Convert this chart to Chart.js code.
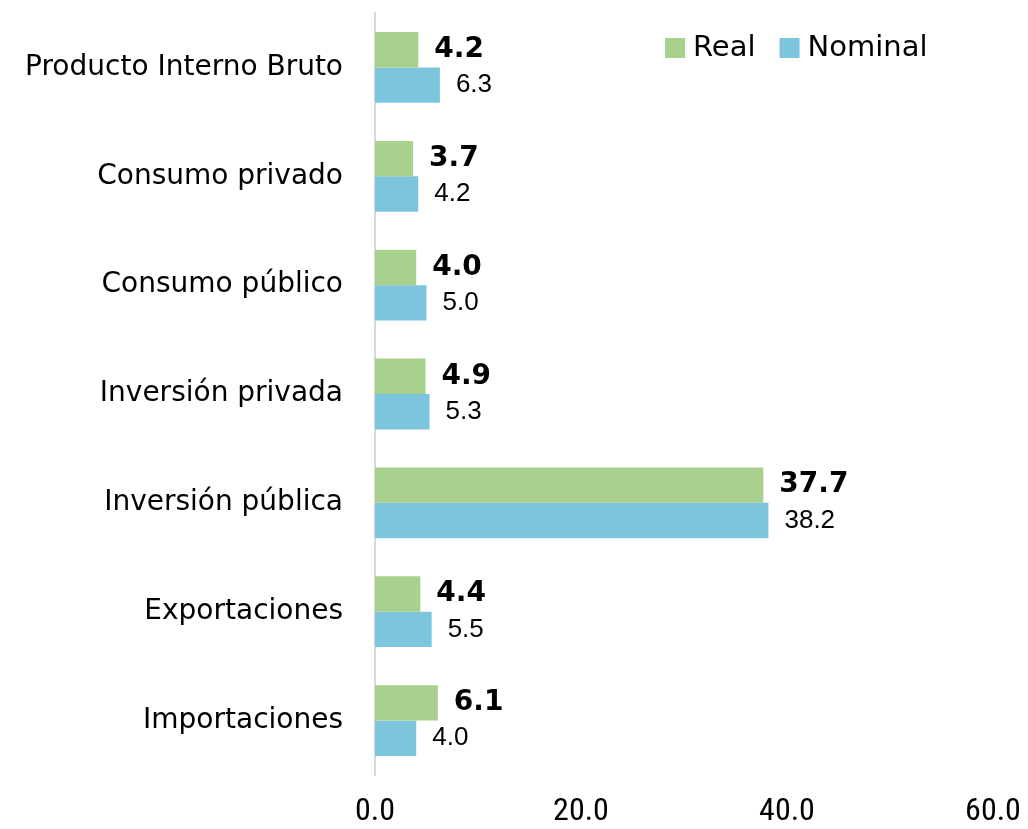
<!DOCTYPE html>
<html>
<head>
<meta charset="utf-8">
<script src="https://cdn.jsdelivr.net/npm/chart.js@4/dist/chart.umd.min.js"></script>
<style>
  html, body { margin: 0; padding: 0; background: #fff; }
  #wrap { width: 1028px; height: 829px; }
</style>
</head>
<body>
<div id="wrap"><canvas id="myChart"></canvas></div>
<script>
const categories = ["Producto Interno Bruto", "Consumo privado", "Consumo público", "Inversión privada", "Inversión pública", "Exportaciones", "Importaciones"]
const real = [4.2, 3.7, 4.0, 4.9, 37.7, 4.4, 6.1]
const nominal = [6.3, 4.2, 5.0, 5.3, 38.2, 5.5, 4.0]
const xticks = [0, 20, 40, 60]

const green = "#A9D18E"
const blue = "#7CC5DD"

// value labels next to each bar, Real in bold
const barLabels = {
    id: "barLabels",
    afterDatasetsDraw(chart) {
        const ctx = chart.ctx
        ctx.save()
        ctx.fillStyle = "#000"
        ctx.textBaseline = "middle"
        ctx.textAlign = "left"
        chart.data.datasets.forEach((ds, i) => {
            const meta = chart.getDatasetMeta(i)
            ctx.font = i === 0 ? "bold 28px 'DejaVu Sans', Verdana, sans-serif" : "26px 'Liberation Sans', Arial, sans-serif"
            meta.data.forEach((bar, j) => {
                ctx.fillText(ds.data[j].toFixed(1), bar.x + 16, bar.y)
            })
        })
        ctx.restore()
    }
}

// legend drawn in the upper right of the plot
const topLegend = {
    id: "topLegend",
    afterDraw(chart) {
        const ctx = chart.ctx
        ctx.save()
        ctx.font = "29px 'DejaVu Sans', sans-serif"
        ctx.textBaseline = "middle"
        let x = 665
        const y = 48
        chart.data.datasets.forEach(ds => {
            ctx.fillStyle = ds.backgroundColor
            ctx.fillRect(x, y - 10, 20, 20)
            ctx.fillStyle = "#000"
            ctx.fillText(ds.label, x + 28, y)
            x += 28 + ctx.measureText(ds.label).width + 24
        })
        ctx.restore()
    }
}

new Chart("myChart", {
    type: "bar",
    data: {
        labels: categories,
        datasets: [
            { label: "Real", data: real, backgroundColor: green },
            { label: "Nominal", data: nominal, backgroundColor: blue }
        ]
    },
    options: {
        indexAxis: "y",
        responsive: true,
        maintainAspectRatio: false,
        animation: false,
        layout: { padding: { top: 13, right: 35, bottom: 0, left: 0 } },
        categoryPercentage: 0.65,
        barPercentage: 1,
        plugins: {
            legend: { display: false },
            tooltip: { enabled: false }
        },
        scales: {
            x: {
                min: 0,
                max: 60,
                afterBuildTicks: s => { s.ticks = xticks.map(v => ({ value: v })) },
                afterFit: s => { s.height = 54; s.paddingLeft = 0; s.paddingRight = 0 },
                grid: { display: false },
                border: { display: false },
                ticks: {
                    padding: 10,
                    color: "#000",
                    font: { family: "'Liberation Sans Narrow', 'Roboto Condensed', Roboto, sans-serif", size: 32 },
                    callback: v => Number(v).toFixed(1)
                }
            },
            y: {
                afterFit: s => { s.width = 375; s.paddingTop = 0; s.paddingBottom = 0 },
                grid: { display: false, drawTicks: false },
                border: { display: true, color: "#D9D9D9", width: 2 },
                ticks: {
                    padding: 32,
                    color: "#000",
                    font: { family: "'DejaVu Sans', Verdana, sans-serif", size: 28 }
                }
            }
        }
    },
    plugins: [barLabels, topLegend]
})
</script>
</body>
</html>
